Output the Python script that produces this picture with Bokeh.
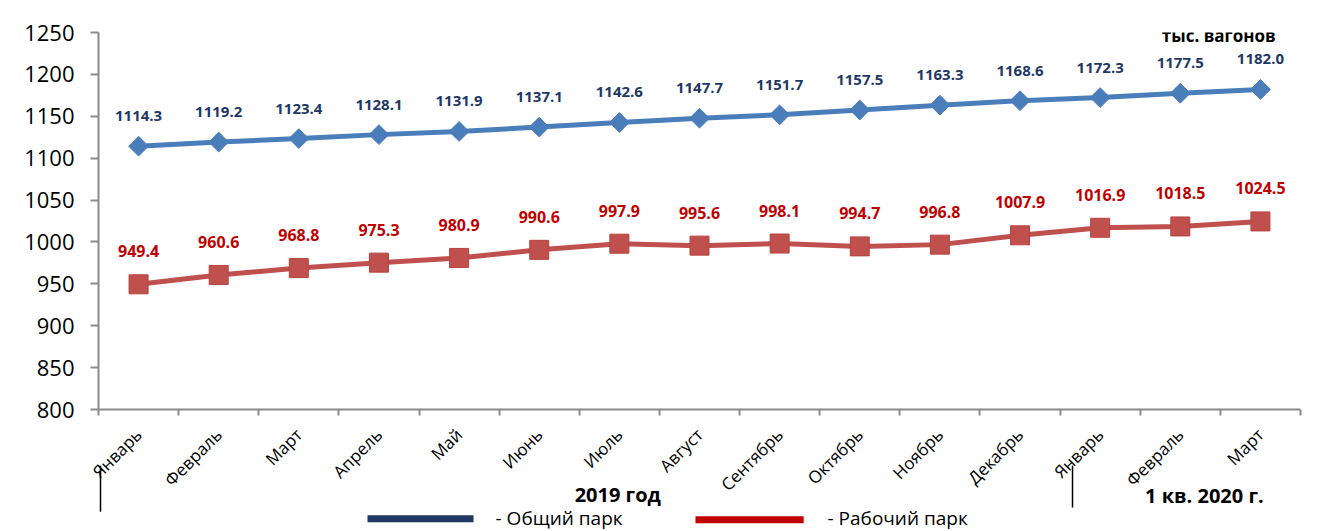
import numpy as np
from bokeh.plotting import figure
from bokeh.models import Range1d, FixedTicker, ColumnDataSource
from bokeh.embed import file_html
from bokeh.resources import INLINE
from bokeh.core.properties import value

# ---------------- data ----------------
months = ["Январь", "Февраль", "Март", "Апрель", "Май", "Июнь", "Июль",
          "Август", "Сентябрь", "Октябрь", "Ноябрь", "Декабрь",
          "Январь", "Февраль", "Март"]
total_park = [1114.3, 1119.2, 1123.4, 1128.1, 1131.9, 1137.1, 1142.6, 1147.7,
              1151.7, 1157.5, 1163.3, 1168.6, 1172.3, 1177.5, 1182.0]
working_park = [949.4, 960.6, 968.8, 975.3, 980.9, 990.6, 997.9, 995.6,
                998.1, 994.7, 996.8, 1007.9, 1016.9, 1018.5, 1024.5]
y_ticks = [800, 850, 900, 950, 1000, 1050, 1100, 1150, 1200, 1250]
series_names = ["- Общий парк", "- Рабочий парк"]
unit_label = "тыс. вагонов"
period_labels = ["2019 год", "1 кв. 2020 г."]

FONT = "Open Sans"
n = len(months)
xs = [i + 0.5 for i in range(n)]

src = ColumnDataSource(dict(
    x=xs,
    total=total_park,
    working=working_park,
    total_txt=[f"{v:.1f}" for v in total_park],
    working_txt=[f"{v:.1f}" for v in working_park],
))

p = figure(width=1312, height=531, output_backend="svg", toolbar_location=None,
           x_range=Range1d(0, n), y_range=Range1d(800, 1250),
           min_border_left=98, min_border_right=12, min_border_top=32,
           min_border_bottom=122)
p.background_fill_color = "white"
p.border_fill_color = "white"
p.outline_line_color = None
p.xgrid.visible = False
p.ygrid.visible = False

AX = "#8a8a8a"
# y axis
p.yaxis.ticker = FixedTicker(ticks=y_ticks)
p.yaxis.axis_line_color = AX
p.yaxis.axis_line_width = 2
p.yaxis.major_tick_line_color = AX
p.yaxis.major_tick_line_width = 2
p.yaxis.major_tick_out = 8
p.yaxis.major_tick_in = 0
p.yaxis.minor_tick_line_color = None
p.yaxis.major_label_text_font = FONT
p.yaxis.major_label_text_font_size = "22px"
p.yaxis.major_label_text_color = "black"
p.yaxis.major_label_standoff = 16

# x axis
p.xaxis.ticker = FixedTicker(ticks=xs, minor_ticks=list(range(n + 1)))
p.xaxis.major_label_overrides = {x: m for x, m in zip(xs, months)}
p.xaxis.axis_line_color = AX
p.xaxis.axis_line_width = 2
p.xaxis.major_tick_line_color = None
p.xaxis.major_tick_out = 0
p.xaxis.major_tick_in = 0
p.xaxis.minor_tick_line_color = AX
p.xaxis.minor_tick_line_width = 2
p.xaxis.minor_tick_out = 6
p.xaxis.minor_tick_in = 0
p.xaxis.major_label_orientation = np.pi / 4
p.xaxis.major_label_text_font = FONT
p.xaxis.major_label_text_font_size = "17px"
p.xaxis.major_label_text_color = "black"
p.xaxis.major_label_standoff = 16

# series
BLUE = "#4a7ebb"
RED = "#c0504d"
p.line("x", "total", source=src, line_color=BLUE, line_width=5)
p.scatter("x", "total", source=src, marker="square", angle=np.pi / 4, size=14,
          fill_color=BLUE, line_color=BLUE)
p.line("x", "working", source=src, line_color=RED, line_width=5)
p.scatter("x", "working", source=src, marker="square", size=19,
          fill_color=RED, line_color="#b5443f")

p.text("x", "total", text="total_txt", source=src, y_offset=-30,
       text_align="center", text_baseline="middle",
       text_font=value(FONT), text_font_style="bold", text_font_size="15px",
       text_color="#1f3864")
p.text("x", "working", text="working_txt", source=src, y_offset=-33,
       text_align="center", text_baseline="middle",
       text_font=value(FONT), text_font_style="bold", text_font_size="16px",
       text_color="#c00000")

# unit label (top right)
p.text(x=[13.98], y=[1246.4], text=[unit_label], text_align="center",
       text_baseline="middle", text_font=value(FONT), text_font_style="bold",
       text_font_size="17px", text_color="black")

# period labels below the axis
per = p.text(x=[6.48, 13.80], y=[698.5, 697.4], text=period_labels,
             text_align="center", text_baseline="middle",
             text_font=value(FONT), text_font_style="bold",
             text_font_size="20px", text_color="black")
per.level = "overlay"

# separators between periods
sep = p.segment(x0=[0.025, 12.155], y0=[733, 733], x1=[0.025, 12.155],
                y1=[678, 683], line_color="black", line_width=1.5)
sep.level = "overlay"

# legend (drawn below the chart)
leg_lines = p.segment(x0=[3.357, 7.45], y0=[669.5, 668.5],
                      x1=[4.68, 8.80], y1=[669.5, 668.5],
                      line_color=["#1f3864", "#c00000"], line_width=7)
leg_lines.level = "overlay"
leg_text = p.text(x=[4.955, 9.098], y=[670, 670], text=series_names,
                  text_align="left", text_baseline="middle",
                  text_font=value(FONT), text_font_size="19px",
                  text_color="black")
leg_text.level = "overlay"

open("out.html", "w").write(file_html(p, INLINE))
